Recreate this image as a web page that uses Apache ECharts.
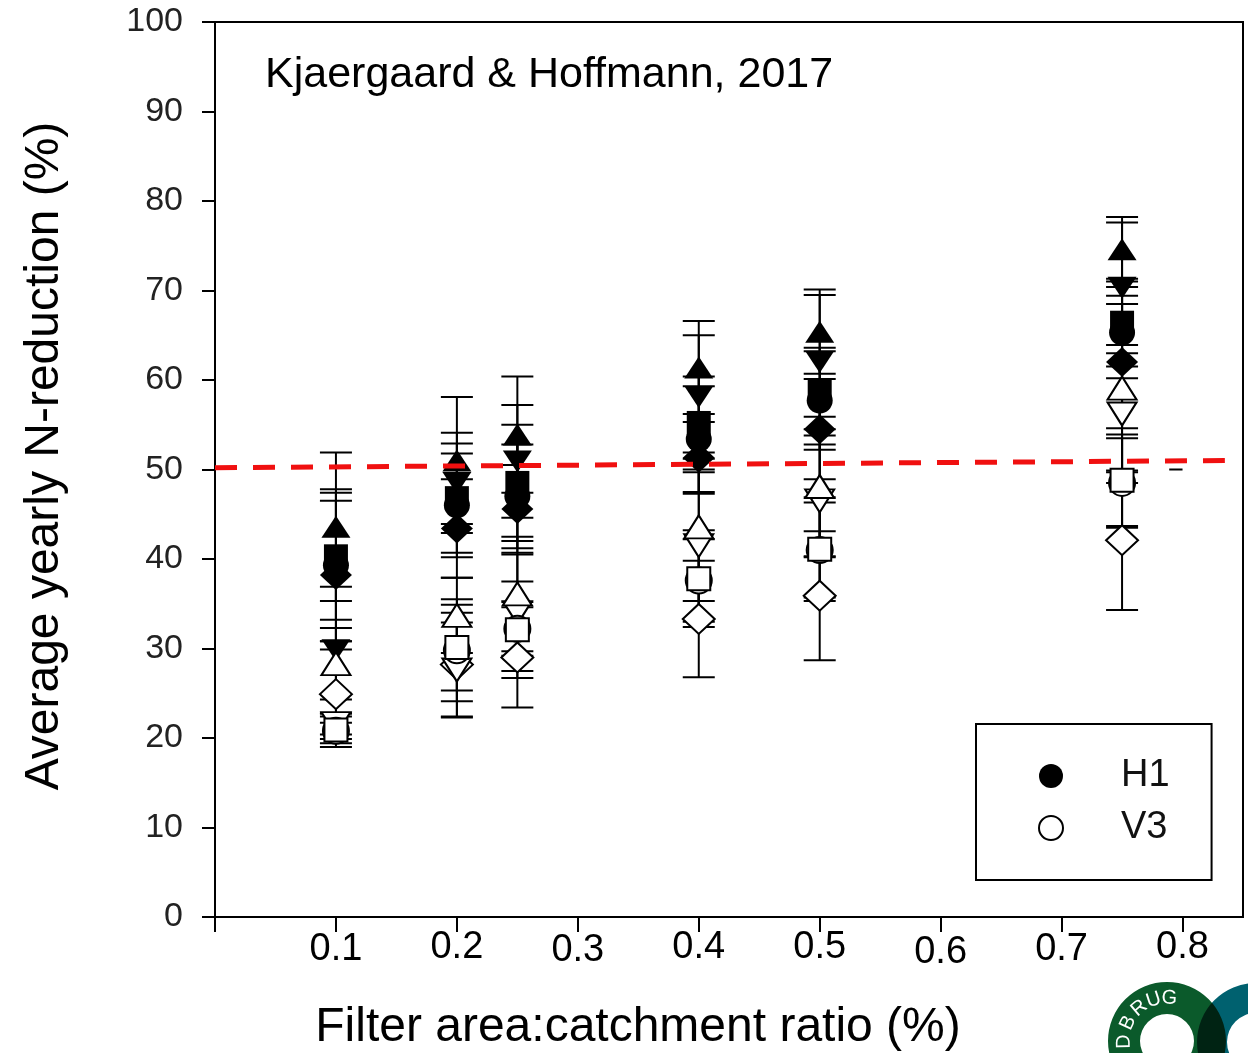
<!DOCTYPE html>
<html>
<head>
<meta charset="utf-8">
<script src="https://cdn.jsdelivr.net/npm/echarts@6.0.0/dist/echarts.min.js"></script>
<style>
  html, body { margin: 0; padding: 0; background: #fff; }
  #chart { width: 1248px; height: 1053px; }
</style>
</head>
<body>
<div id="chart"></div>
<script>
// filter area : catchment ratio (%)
const ratios = [0.1, 0.2, 0.25, 0.4, 0.5, 0.75];

// H1 (filled symbols) - mean N-reduction and error
const h1Circle = [39.3, 46.0, 47.0, 53.4, 57.7, 65.3];
const h1CircleErr = [8.5, 5.8, 5.8, 5.9, 5.5, 5.1];
const h1Square = [40.3, 46.8, 48.5, 55.2, 58.7, 66.4];
const h1SquareErr = [7.1, 6.1, 6.5, 5.2, 4.9, 4.9];
const h1Diamond = [38.2, 43.4, 45.6, 51.3, 54.5, 62.0];
const h1DiamondErr = [8.3, 5.5, 4.9, 4.0, 5.6, 7.4];
const h1TriDown = [29.8, 48.5, 50.9, 58.1, 62.0, 70.3];
const h1TriDownErr = [7.1, 5.6, 6.3, 6.9, 7.5, 7.3];
const h1TriUp = [43.6, 51.0, 53.9, 61.4, 65.4, 74.6];
const h1TriUpErr = [8.3, 7.1, 6.5, 5.2, 4.7, 3.6];

// V3 (open symbols)
const v3Diamond = [24.9, 28.2, 29.0, 33.3, 35.9, 42.1];
const v3DiamondErr = [5.9, 5.8, 5.6, 6.5, 7.2, 7.8];
const v3TriDown = [21.6, 27.6, 34.0, 41.5, 46.5, 56.2];
const v3TriDownErr = [1.2, 5.3, 6.5, 8.2, 6.3, 7.7];
const v3Circle = [20.8, 29.8, 32.2, 37.6, 41.0, 48.5];
const v3CircleErr = [0.9, 5.7, 3.0, 4.6, 5.3, 5.0];
const v3Square = [20.9, 30.1, 32.1, 37.8, 41.1, 48.8];
const v3SquareErr = [1.5, 4.8, 5.4, 5.4, 5.8, 5.1];
const v3TriUp = [28.3, 33.7, 36.1, 43.6, 48.1, 59.1];
const v3TriUpErr = [4.0, 4.2, 6.4, 8.3, 7.8, 9.4];

// 50 % reference line (red dashes) and the stray dash near 0.8
const refLineX = [0, 0.835];
const refLineY = [50.2, 51.0];
const strayX = [0.789, 0.8];
const strayY = [50, 50];

const xTicks = [0.1, 0.2, 0.3, 0.4, 0.5, 0.6, 0.7, 0.8];
const xTickDrop = [2, 0, 3, 0, 0, 5, 2, 0];
const yTicks = [0, 10, 20, 30, 40, 50, 60, 70, 80, 90, 100];

const font = '"Liberation Sans", Arial, sans-serif';
const chart = echarts.init(document.getElementById('chart'));

function renderErr(params, api) {
  const x = api.value(0);
  const lo = api.coord([x, api.value(1)]);
  const hi = api.coord([x, api.value(2)]);
  const w = 16;
  const st = { stroke: '#000', lineWidth: 2 };
  return {
    type: 'group',
    children: [
      { type: 'line', shape: { x1: hi[0], y1: hi[1], x2: lo[0], y2: lo[1] }, style: st },
      { type: 'line', shape: { x1: hi[0] - w, y1: hi[1], x2: hi[0] + w, y2: hi[1] }, style: st },
      { type: 'line', shape: { x1: lo[0] - w, y1: lo[1], x2: lo[0] + w, y2: lo[1] }, style: st }
    ]
  };
}

function pairs(vals, errs, name, symbol, size, rotate, open) {
  const errData = ratios.map((x, i) => [x, vals[i] - errs[i], vals[i] + errs[i]]);
  const pts = ratios.map((x, i) => [x, vals[i]]);
  return [
    {
      name: name + ' err',
      type: 'custom',
      renderItem: renderErr,
      encode: { x: 0, y: [1, 2] },
      data: errData,
      silent: true
    },
    {
      name: name,
      type: 'scatter',
      symbol: symbol,
      symbolSize: size,
      symbolRotate: rotate,
      itemStyle: open
        ? { color: '#fff', borderColor: '#000', borderWidth: 2, opacity: 1 }
        : { color: '#000', borderColor: '#000', borderWidth: 0, opacity: 1 },
      data: pts
    }
  ];
}

const series = [].concat(
  pairs(h1Circle, h1CircleErr, 'H1', 'circle', 26, 0, false),
  pairs(h1Square, h1SquareErr, 'H1 square', 'rect', 24, 0, false),
  pairs(h1Diamond, h1DiamondErr, 'H1 diamond', 'diamond', [32, 30], 0, false),
  pairs(h1TriDown, h1TriDownErr, 'H1 down', 'triangle', [29, 22], 180, false),
  pairs(h1TriUp, h1TriUpErr, 'H1 up', 'triangle', [29, 22], 0, false),
  pairs(v3Diamond, v3DiamondErr, 'V3 diamond', 'diamond', [32, 30], 0, true),
  pairs(v3TriDown, v3TriDownErr, 'V3 down', 'triangle', [29, 23], 180, true),
  pairs(v3Circle, v3CircleErr, 'V3', 'circle', 26, 0, true),
  pairs(v3Square, v3SquareErr, 'V3 square', 'rect', 23, 0, true),
  pairs(v3TriUp, v3TriUpErr, 'V3 up', 'triangle', [29, 23], 0, true),
  [
    {
      name: 'ref',
      type: 'line',
      data: refLineX.map((x, i) => [x, refLineY[i]]),
      symbol: 'none',
      lineStyle: { color: '#f01010', width: 5, type: [22, 16] },
      z: 10,
      silent: true
    },
    {
      name: 'stray',
      type: 'line',
      data: strayX.map((x, i) => [x, strayY[i]]),
      symbol: 'none',
      lineStyle: { color: '#000', width: 2 },
      silent: true
    }
  ]
);

// logo bits, bottom right corner
const logoLetters = ['D', 'B', 'R', 'U', 'G'];
const logoAngles = [181, 155, 130, 108, 87];
const logoText = logoLetters.map((ch, i) => {
  const a = logoAngles[i] * Math.PI / 180;
  return {
    type: 'text',
    x: 1167 + 43 * Math.cos(a),
    y: 1041 - 43 * Math.sin(a),
    rotation: a - Math.PI / 2,
    z: 3,
    style: {
      text: ch, fill: '#fff', font: '20px ' + font,
      textAlign: 'center', textVerticalAlign: 'middle'
    }
  };
});

const tickRich = {};
xTickDrop.forEach((d, i) => { tickRich['t' + i] = { padding: [d, 0, 0, 0] }; });

chart.setOption({
  animation: false,
  backgroundColor: '#fff',
  grid: {
    left: 215, right: 5, top: 22, bottom: 136,
    show: true, borderColor: '#000', borderWidth: 2,
    containLabel: false, outerBoundsMode: 'none'
  },
  legend: {
    data: [{ name: 'H1' }, { name: 'V3' }],
    orient: 'vertical',
    left: 976, top: 724,
    padding: [33, 42, 33, 62],
    borderColor: '#000', borderWidth: 2,
    itemWidth: 24, itemHeight: 24, itemGap: 14,
    selectedMode: false,
    textStyle: { fontSize: 38, color: '#111', fontFamily: font, padding: [0, 0, 0, 53] }
  },
  xAxis: {
    type: 'value', min: 0, max: 0.85,
    axisLine: { show: true, onZero: false, lineStyle: { color: '#000', width: 2 } },
    axisTick: { show: true, length: 15, lineStyle: { color: '#000', width: 2 }, customValues: [0].concat(xTicks) },
    axisLabel: {
      customValues: xTicks,
      formatter: v => {
        const i = xTicks.findIndex(t => Math.abs(t - v) < 1e-6);
        return '{t' + i + '|' + v.toFixed(1) + '}';
      },
      rich: tickRich,
      fontSize: 38, color: '#000', fontFamily: font, margin: 12
    },
    splitLine: { show: false }
  },
  yAxis: {
    type: 'value', min: 0, max: 100, interval: 10,
    axisLine: { show: true, lineStyle: { color: '#000', width: 2 } },
    axisTick: { show: true, length: 13, lineStyle: { color: '#000', width: 2 } },
    axisLabel: {
      fontSize: 34, color: '#222', fontFamily: font, margin: 32,
      formatter: v => (yTicks.indexOf(v) >= 0 ? String(v) : '')
    },
    splitLine: { show: false }
  },
  graphic: [
    {
      type: 'text', left: 265, top: 54,
      style: { text: 'Kjaergaard & Hoffmann, 2017', fill: '#000', font: '43px ' + font }
    },
    {
      type: 'text', x: 45, y: 456, rotation: Math.PI / 2,
      style: {
        text: 'Average yearly N-reduction (%)', fill: '#000', font: '48px ' + font,
        textAlign: 'center', textVerticalAlign: 'middle'
      }
    },
    {
      type: 'text', x: 638, y: 1028,
      style: {
        text: 'Filter area:catchment ratio (%)', fill: '#000', font: '48px ' + font,
        textAlign: 'center', textVerticalAlign: 'middle'
      }
    },
    {
      type: 'ring', shape: { cx: 1167, cy: 1041, r: 59, r0: 27 },
      style: { fill: '#0b5a2b' }, z: 0
    },
    {
      type: 'ring', shape: { cx: 1256, cy: 1042, r: 59, r0: 29 },
      style: { fill: '#00616f', blend: 'multiply' }, z: 1
    }
  ].concat(logoText),
  series: series
});
</script>
</body>
</html>
